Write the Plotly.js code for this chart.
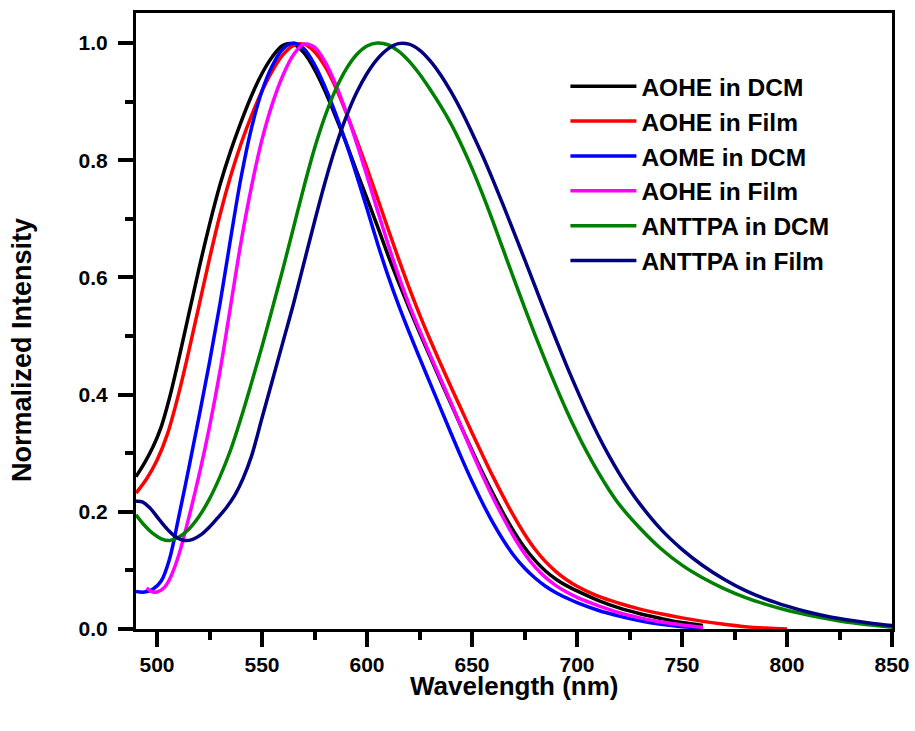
<!DOCTYPE html>
<html>
<head>
<meta charset="utf-8">
<script src="https://cdn.plot.ly/plotly-3.0.1.min.js"></script>
<style>html,body{margin:0;padding:0;background:#fff;}#chart{width:915px;height:731px;}</style>
</head>
<body>
<div id="chart"></div>
<script>
// Series names (as in the legend)
const seriesNames = ["AOHE in DCM", "AOHE in Film", "AOME in DCM", "AOHE in Film", "ANTTPA in DCM", "ANTTPA in Film"];
const seriesColors = ["#000000", "#FF0000", "#0000FF", "#FF00FF", "#008000", "#000080"];

// AOHE in DCM (black)
const aoheDcmX = [490,494,498,502,506,510,515,520,525,530,535,540,545,550,555,560,565,570,575,580,585,590,595,600,605,610,615,620,625,630,635,640,645,650,655,660,665,670,675,680,685,690,695,700,710,720,730,740,750,760];
const aoheDcmY = [0.26,0.283,0.31,0.345,0.395,0.455,0.535,0.615,0.69,0.758,0.815,0.865,0.91,0.948,0.977,0.996,0.998,0.983,0.955,0.918,0.875,0.83,0.782,0.735,0.687,0.638,0.592,0.548,0.506,0.465,0.424,0.384,0.344,0.305,0.267,0.231,0.197,0.166,0.139,0.117,0.099,0.085,0.074,0.065,0.049,0.036,0.026,0.018,0.011,0.006];

// AOHE in Film (red)
const aoheFilmX = [490,495,500,505,510,515,520,525,530,535,540,545,550,555,560,565,570,575,580,585,590,595,600,605,610,615,620,625,630,635,640,645,650,655,660,665,670,675,680,685,690,695,700,710,720,730,740,750,760,770,780,790,800];
const aoheFilmY = [0.232,0.256,0.288,0.333,0.397,0.472,0.552,0.632,0.707,0.772,0.828,0.876,0.918,0.953,0.98,0.996,0.998,0.985,0.96,0.925,0.882,0.835,0.786,0.735,0.683,0.632,0.583,0.537,0.494,0.453,0.413,0.374,0.335,0.297,0.26,0.225,0.192,0.162,0.136,0.115,0.098,0.084,0.073,0.056,0.044,0.034,0.026,0.019,0.013,0.008,0.004,0.0015,0.0];

// AOME in DCM (blue)
const aomeDcmX = [490,494,498,502,506,510,515,520,525,530,535,540,545,550,555,560,565,570,575,580,585,590,595,600,605,610,615,620,625,630,635,640,645,650,655,660,665,670,675,680,685,690,695,700,710,720,730,740,750,760];
const aomeDcmY = [0.064,0.063,0.068,0.082,0.12,0.185,0.272,0.362,0.455,0.555,0.665,0.77,0.855,0.918,0.962,0.99,1.0,0.99,0.963,0.925,0.88,0.83,0.775,0.717,0.658,0.603,0.553,0.507,0.463,0.42,0.377,0.334,0.292,0.252,0.215,0.181,0.151,0.125,0.104,0.087,0.073,0.062,0.053,0.045,0.032,0.022,0.014,0.008,0.004,0.002];

// AOHE in Film, second entry (magenta)
const aoheFilm2X = [495,497.5,500,503,506,510,515,520,525,530,535,540,545,550,555,560,565,570,575,580,585,590,595,600,605,610,615,620,625,630,635,640,645,650,655,660,665,670,675,680,685,690,695,700,710,720,730,740,750,760];
const aoheFilm2Y = [0.07,0.064,0.063,0.069,0.085,0.122,0.188,0.262,0.345,0.44,0.55,0.66,0.755,0.835,0.897,0.945,0.98,0.998,0.993,0.968,0.93,0.883,0.83,0.773,0.714,0.657,0.603,0.554,0.51,0.468,0.427,0.386,0.344,0.302,0.262,0.224,0.189,0.157,0.129,0.106,0.088,0.074,0.063,0.054,0.04,0.028,0.019,0.012,0.007,0.003];

// ANTTPA in DCM (green)
const anttpaDcmX = [490,494,498,502,506,510,515,520,525,530,535,540,545,550,555,560,565,570,575,580,585,590,595,600,605,610,615,620,625,630,635,640,645,650,655,660,665,670,675,680,685,690,695,700,705,710,715,720,730,740,750,760,770,780,790,800,810,820,830,840,850];
const anttpaDcmY = [0.195,0.177,0.163,0.154,0.151,0.156,0.17,0.192,0.222,0.26,0.305,0.36,0.42,0.482,0.548,0.615,0.685,0.755,0.82,0.875,0.92,0.955,0.98,0.995,1.0,0.997,0.986,0.969,0.947,0.921,0.893,0.862,0.826,0.786,0.742,0.695,0.646,0.597,0.549,0.502,0.457,0.414,0.373,0.335,0.3,0.268,0.239,0.213,0.172,0.137,0.109,0.087,0.069,0.054,0.042,0.032,0.024,0.017,0.011,0.007,0.003];

// ANTTPA in Film (navy)
const anttpaFilmX = [490,493,497,501,505,509,513,517,521,525,529,533,537,541,545,550,555,560,565,570,575,580,585,590,595,600,605,610,615,620,625,630,635,640,645,650,655,660,665,670,675,680,685,690,695,700,705,710,715,720,725,730,740,750,760,770,780,790,800,810,820,830,840,850];
const anttpaFilmY = [0.218,0.217,0.205,0.187,0.17,0.157,0.151,0.153,0.161,0.174,0.19,0.207,0.228,0.257,0.295,0.36,0.425,0.49,0.555,0.625,0.695,0.762,0.822,0.873,0.915,0.948,0.973,0.99,0.999,0.998,0.988,0.97,0.946,0.917,0.884,0.847,0.808,0.766,0.722,0.677,0.631,0.585,0.539,0.494,0.45,0.408,0.368,0.331,0.297,0.266,0.238,0.213,0.17,0.136,0.108,0.085,0.066,0.051,0.039,0.029,0.021,0.015,0.01,0.006];

// Axis ticks
const xTickVals = [500,550,600,650,700,750,800,850];
const xTickText = ["500","550","600","650","700","750","800","850"];
const yTickVals = [0.0,0.2,0.4,0.6,0.8,1.0];
const yTickText = ["0.0","0.2","0.4","0.6","0.8","1.0"];

const xs = [aoheDcmX, aoheFilmX, aomeDcmX, aoheFilm2X, anttpaDcmX, anttpaFilmX];
const ys = [aoheDcmY, aoheFilmY, aomeDcmY, aoheFilm2Y, anttpaDcmY, anttpaFilmY];

const FONT = "Liberation Sans, Arial, Helvetica, sans-serif";

const traces = seriesNames.map((name, i) => ({
  x: xs[i], y: ys[i], name: name, type: "scatter", mode: "lines",
  line: {color: seriesColors[i], width: 3.5, shape: "spline", smoothing: 1}
}));

const layout = {
  width: 915, height: 731,
  margin: {l: 136, r: 23, t: 13, b: 102},
  paper_bgcolor: "#ffffff", plot_bgcolor: "#ffffff",
  showlegend: true,
  legend: {
    x: 0.568, y: 0.9175, xanchor: "left", yanchor: "top",
    bgcolor: "rgba(0,0,0,0)", borderwidth: 0,
    font: {family: FONT, size: 24.5, color: "#000", weight: "bold"},
    itemwidth: 66, tracegroupgap: 0
  },
  xaxis: {
    range: [490, 850], showline: true, linewidth: 3, linecolor: "#000", mirror: true,
    showgrid: false, zeroline: false,
    tickmode: "array", tickvals: xTickVals, ticktext: xTickText,
    ticks: "outside", ticklen: 15, tickwidth: 4, tickcolor: "#000",
    tickfont: {family: FONT, size: 21, color: "#000", weight: "bold"},
    minor: {tickmode: "linear", tick0: xTickVals[0], dtick: (xTickVals[1] - xTickVals[0]) / 2, ticks: "outside", ticklen: 8, tickwidth: 4, tickcolor: "#000", showgrid: false},
    title: {text: ""}
  },
  yaxis: {
    range: [0, 1.0512], showline: true, linewidth: 3, linecolor: "#000", mirror: true,
    showgrid: false, zeroline: false,
    tickmode: "array", tickvals: yTickVals, ticktext: yTickText,
    ticks: "outside", ticklen: 15, tickwidth: 4, tickcolor: "#000",
    tickfont: {family: FONT, size: 21, color: "#000", weight: "bold"},
    ticklabelstandoff: 6,
    minor: {tickmode: "linear", tick0: yTickVals[0], dtick: (yTickVals[1] - yTickVals[0]) / 2, ticks: "outside", ticklen: 8, tickwidth: 4, tickcolor: "#000", showgrid: false},
    title: {text: ""}
  },
  annotations: [
    {
      text: "Wavelength (nm)", xref: "paper", yref: "paper",
      x: 0.5, y: -0.0925, xanchor: "center", yanchor: "middle",
      showarrow: false,
      font: {family: FONT, size: 26, color: "#000", weight: "bold"}
    },
    {
      text: "Normalized Intensity", xref: "paper", yref: "paper",
      x: -0.151, y: 0.4526, xanchor: "center", yanchor: "middle",
      textangle: -90, showarrow: false,
      font: {family: FONT, size: 27, color: "#000", weight: "bold"}
    }
  ]
};

Plotly.newPlot("chart", traces, layout, {displayModeBar: false, staticPlot: true});
</script>
</body>
</html>
